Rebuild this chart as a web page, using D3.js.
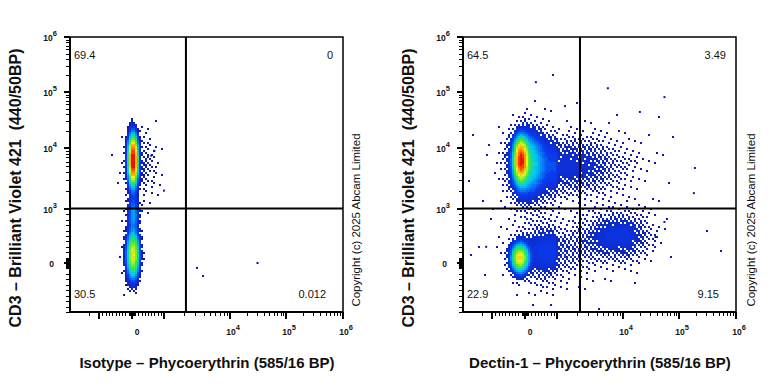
<!DOCTYPE html>
<html lang="en">
<head>
  <meta charset="utf-8">
  <script src="https://d3js.org/d3.v7.min.js"></script>
  <style>
    body { margin: 0; background: #fff; }
    svg text { font-family: 'Liberation Sans', Arial, sans-serif; fill: #111; white-space: pre; }
  </style>
</head>
<body>
<div id="chart"></div>
<script>
  // quadrant percentages: upper-left, upper-right, lower-left, lower-right
  var quadLeft = ["69.4", "0", "30.5", "0.012"];
  var quadRight = ["64.5", "3.49", "22.9", "9.15"];

  var xTitles = ["Isotype – Phycoerythrin (585/16 BP)", "Dectin-1 – Phycoerythrin (585/16 BP)"];
  var yTitle = "CD3 – Brilliant Violet 421  (440/50BP)";
  var copyright = "Copyright (c) 2025 Abcam Limited";

  // quadrant gate positions (fluorescence units)
  var gateX = [2150, 2230];
  var gateY = [1020, 1020];

  // cell populations: [PE centre, BV421 centre, PE spread (decades), BV421 spread (decades), events]
  var popsLeft = [
    [30, 6300, 0.075, 0.20, 6300],
    [250, 5000, 0.30, 0.30, 150],
    [40, 900, 0.09, 0.18, 350],
    [30, 150, 0.10, 0.22, 2700]
  ];
  var popsRight = [
    [-120, 6300, 0.12, 0.20, 2000],
    [100, 5500, 0.30, 0.30, 1700],
    [1500, 5000, 0.50, 0.28, 900],
    [-150, 90, 0.15, 0.15, 1000],
    [700, 200, 0.50, 0.28, 600],
    [8000, 500, 0.32, 0.25, 550],
    [500, 1000, 1.00, 1.00, 150]
  ];

  // single outlying events [PE, BV421]
  var eventsLeft = [[3160, -90], [3900, -240], [31000, 0], [700, 9000], [600, 7500], [1000, 2000]];
  var eventsRight = [[5900, 117000], [55000, 81000], [20000, 44000], [182000, 1820], [55000, 760],
                     [38000, 480], [190000, 4700], [340, 151000], [1320, 56000], [-1500, 300]];

  var xMajor = [-1000, 0, 1000, 1e4, 1e5, 1e6];
  var yMajor = [0, 1e3, 1e4, 1e5, 1e6];
  var xLabels = [[0, "0", ""], [1e4, "10", "4"], [1e5, "10", "5"], [1e6, "10", "6"]];
  var yLabels = [[0, "0", ""], [1e3, "10", "3"], [1e4, "10", "4"], [1e5, "10", "5"], [1e6, "10", "6"]];

  // biexponential-like display transform: linear up to 1000, log above
  function toU(v) {
    var a = Math.abs(v);
    var u = a <= 1000 ? a / 1000 : 1 + Math.log10(a / 1000);
    return v < 0 ? -u : u;
  }

  var minorVals = [];
  [10, 100, 1000, 1e4, 1e5].forEach(function(dec) {
    for (var k = 1; k <= 9; k++) {
      if (dec >= 1000 && k === 1) continue;
      minorVals.push(k * dec, -k * dec);
    }
  });

  var W = 768, H = 384;
  var plotTop = 37, plotBottom = 312, plotW = 273;
  var levels = 32;

  var yU = d3.scaleLinear().domain([-0.9, 0, 1, 2, 3, 4]).range([312, 263, 209, 148, 92, 37]);

  var color = d3.scaleLinear()
      .domain([0, 0.3, 0.5, 0.65, 0.8, 0.9, 1])
      .range(["#14149c", "#0a3cf0", "#00c8f0", "#3ce63c", "#f0f01e", "#ff8c00", "#e60000"]);

  // dither threshold per raster cell (interleaved gradient noise)
  function dither(i, j) {
    var f = 0.06711056 * i + 0.00583715 * j;
    f = 52.9829189 * (f - Math.floor(f));
    return f - Math.floor(f);
  }

  function gauss(d, s) { return Math.exp(-0.5 * d * d / (s * s)) / (s * Math.sqrt(2 * Math.PI)); }

  var svg = d3.select("#chart").append("svg").attr("width", W).attr("height", H);
  var dataLayer = svg.append("g");
  var textLayer = svg.append("g");
  var lineLayer = svg.append("g");

  var panels = [
    {x0: 70, quads: quadLeft, pops: popsLeft, events: eventsLeft, gx: gateX[0], gy: gateY[0], title: xTitles[0], copyX: 360},
    {x0: 463, quads: quadRight, pops: popsRight, events: eventsRight, gx: gateX[1], gy: gateY[1], title: xTitles[1], copyX: 755}
  ];

  panels.forEach(function(p) {
    var xU = d3.scaleLinear().domain([-1, 0, 1, 2, 3, 4])
        .range([29, 62, 94, 160, 216, 273].map(function(r) { return r + p.x0; }));
    var xs = function(v) { return xU(toU(v)); };
    var ys = function(v) { return yU(toU(v)); };

    // density raster of the populations, one path per colour level
    var cells = [], cs = 2, maxE = 0;
    for (var cx = p.x0 + 1; cx < p.x0 + plotW - 1; cx += cs) {
      var ux0 = xU.invert(cx), ux1 = xU.invert(cx + cs), ux = (ux0 + ux1) / 2;
      for (var cy = plotTop + 1; cy < plotBottom - 1; cy += cs) {
        var uy0 = yU.invert(cy + cs), uy1 = yU.invert(cy), uy = (uy0 + uy1) / 2;
        var e = 0;
        p.pops.forEach(function(q) {
          e += q[4] * gauss(ux - toU(q[0]), q[2]) * gauss(uy - toU(q[1]), q[3]);
        });
        e *= (ux1 - ux0) * (uy1 - uy0);
        var th = dither((cx - p.x0) / cs, (cy - plotTop) / cs);
        if (e > th) cells.push({x: cx, y: cy, e: e});
        if (e > maxE) maxE = e;
      }
    }
    var lmax = Math.log1p(maxE);
    cells.forEach(function(c) {
      c.level = Math.min(levels - 1, Math.floor(Math.log1p(c.e) / lmax * levels));
    });
    var byLevel = Array.from(d3.group(cells, function(c) { return c.level; }), function(kv) {
      return {level: kv[0], d: kv[1].map(function(c) { return "M" + c.x + " " + c.y + "h2v2h-2z"; }).join("")};
    }).sort(function(a, b) { return a.level - b.level; });

    dataLayer.append("g").selectAll("path").data(byLevel).join("path")
      .attr("d", function(d) { return d.d; })
      .attr("fill", function(d) { return color((d.level + 0.5) / levels); });

    dataLayer.append("g").selectAll("rect").data(p.events).join("rect")
      .attr("x", function(d) { return xs(d[0]) - 1; })
      .attr("y", function(d) { return ys(d[1]) - 1; })
      .attr("width", 2).attr("height", 2)
      .attr("fill", "#14149c");

    // frame, axes and quadrant gates as one stroked path each
    var xL = p.x0, xR = p.x0 + plotW;
    var framePath = d3.path();
    framePath.moveTo(xL, plotTop); framePath.lineTo(xR, plotTop);
    framePath.lineTo(xR, plotBottom); framePath.lineTo(xL, plotBottom); framePath.closePath();
    lineLayer.append("path").attr("d", framePath.toString())
      .attr("fill", "none").attr("stroke", "#000").attr("stroke-width", 1.5);

    var axisPath = d3.path();
    axisPath.moveTo(xL, plotTop); axisPath.lineTo(xL, plotBottom); axisPath.lineTo(xR, plotBottom);
    lineLayer.append("path").attr("d", axisPath.toString())
      .attr("fill", "none").attr("stroke", "#000").attr("stroke-width", 2);

    var gatePath = d3.path();
    gatePath.moveTo(xs(p.gx), plotTop); gatePath.lineTo(xs(p.gx), plotBottom);
    gatePath.moveTo(xL, ys(p.gy)); gatePath.lineTo(xR, ys(p.gy));
    lineLayer.append("path").attr("d", gatePath.toString())
      .attr("fill", "none").attr("stroke", "#000").attr("stroke-width", 2);

    // ticks
    var xMinor = minorVals.filter(function(v) { return toU(v) >= -1.44 && toU(v) <= 4; });
    var yMinor = minorVals.filter(function(v) { return toU(v) >= -0.9 && toU(v) <= 4; });

    var minorPath = d3.path(), majorPath = d3.path();
    xMinor.forEach(function(v) { var px = Math.round(xs(v)) + 0.5; minorPath.moveTo(px, plotBottom); minorPath.lineTo(px, plotBottom + 4); });
    yMinor.forEach(function(v) { var py = Math.round(ys(v)) + 0.5; minorPath.moveTo(xL, py); minorPath.lineTo(xL - 4, py); });
    xMajor.forEach(function(v) { var px = Math.round(xs(v)); majorPath.moveTo(px, plotBottom); majorPath.lineTo(px, plotBottom + 7); });
    yMajor.forEach(function(v) { var py = Math.round(ys(v)); majorPath.moveTo(xL, py); majorPath.lineTo(xL - 6, py); });
    lineLayer.append("path").attr("d", minorPath.toString()).attr("fill", "none")
      .attr("stroke", "#000").attr("stroke-width", 1);
    lineLayer.append("path").attr("d", majorPath.toString()).attr("fill", "none")
      .attr("stroke", "#000").attr("stroke-width", 2);

    var g = textLayer.append("g");

    // tick labels
    xLabels.forEach(function(l) {
      var t = g.append("text").attr("x", xs(l[0]) + (l[2] ? 3 : 5)).attr("y", 335)
        .attr("text-anchor", "middle").attr("font-size", 8.5).attr("font-weight", "bold");
      t.append("tspan").text(l[1]);
      if (l[2]) t.append("tspan").attr("dy", -5).attr("font-size", 7.5).text(l[2]);
    });
    yLabels.forEach(function(l) {
      var t = g.append("text").attr("x", p.x0 - (l[2] ? 13 : 16)).attr("y", ys(l[0]) + 4)
        .attr("text-anchor", "end").attr("font-size", 8.5).attr("font-weight", "bold");
      t.append("tspan").text(l[1]);
      if (l[2]) t.append("tspan").attr("dy", -5).attr("font-size", 7.5).text(l[2]);
    });

    // quadrant percentages
    var qpos = [[p.x0 + 4, 59, "start"], [p.x0 + plotW - 10, 59, "end"],
                [p.x0 + 4, 298, "start"], [p.x0 + plotW - 17, 298, "end"]];
    p.quads.forEach(function(q, i) {
      g.append("text").attr("x", qpos[i][0]).attr("y", qpos[i][1]).attr("text-anchor", qpos[i][2])
        .attr("font-size", 11).text(q);
    });

    // titles
    g.append("text").attr("x", p.x0 + 137).attr("y", 368).attr("text-anchor", "middle")
      .attr("font-size", 15).attr("font-weight", "bold").text(p.title);
    g.append("text").attr("transform", "translate(" + (p.x0 - 49) + ",188) rotate(-90)")
      .attr("text-anchor", "middle").attr("font-size", 16).attr("font-weight", "bold").text(yTitle);
    g.append("text").attr("transform", "translate(" + p.copyX + ",220) rotate(-90)")
      .attr("text-anchor", "middle").attr("font-size", 11.5).text(copyright);
  });
</script>
</body>
</html>
